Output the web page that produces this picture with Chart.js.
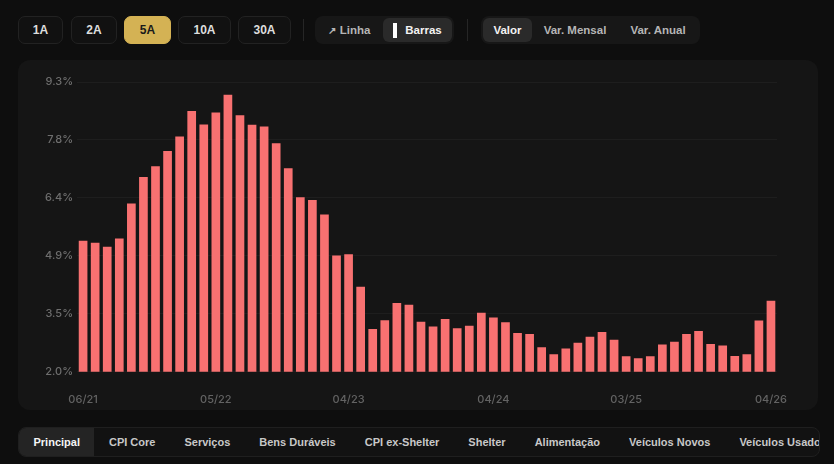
<!DOCTYPE html>
<html>
<head>
<meta charset="utf-8">
<script src="https://cdn.jsdelivr.net/npm/chart.js@4.4.1/dist/chart.umd.min.js"></script>
<style>
  html, body { margin: 0; padding: 0; background: #0e0e0e; width: 834px; height: 464px; overflow: hidden; font-family: "Liberation Sans", Arial, sans-serif; }
  .btn { position: absolute; top: 16px; height: 26px; border: 1px solid #222; border-radius: 7px; background: #111; color: #ddd; font-size: 12px; font-weight: bold; display: flex; align-items: center; justify-content: center; box-sizing: content-box; }
  .btn.on { background: #d4b254; border-color: #d4b254; color: #1a1a1a; }
  .sep { position: absolute; top: 19px; width: 1px; height: 22px; background: #262626; }
  .group { position: absolute; top: 16px; height: 28px; border-radius: 8px; background: #171717; }
  .seg { position: absolute; top: 2px; height: 24px; border-radius: 6px; color: #b5b5b5; font-size: 11.5px; font-weight: bold; display: flex; align-items: center; justify-content: center; }
  .seg.on { background: #2a2a2a; color: #f2f2f2; }
  .card { position: absolute; left: 18px; top: 60px; width: 800px; height: 350px; border-radius: 12px; background: #151515; }
  .tabs { position: absolute; left: 18px; top: 427px; width: 800px; height: 28px; border: 1px solid #1f1f1f; border-radius: 8px; background: #121212; overflow: hidden; white-space: nowrap; display: flex; }
  .tab { padding: 0 14.5px; height: 28px; line-height: 28px; font-size: 11px; font-weight: bold; color: #c8c8c8; flex: none; }
  .tab.on { background: #242424; color: #f5f5f5; }
</style>
</head>
<body>
<div class="btn" style="left:18px;width:43px;">1A</div>
<div class="btn" style="left:71px;width:44px;">2A</div>
<div class="btn on" style="left:124px;width:45px;">5A</div>
<div class="btn" style="left:178px;width:51px;">10A</div>
<div class="btn" style="left:238px;width:51px;">30A</div>
<div class="sep" style="left:303px;"></div>
<div class="group" style="left:315px;width:139px;">
  <div class="seg" style="left:2px;width:64px;"><span style="font-size:10px;margin-right:4px;">&#8599;</span>Linha</div>
  <div class="seg on" style="left:68px;width:69px;"><span style="display:inline-block;width:4px;height:15px;background:#fff;margin-right:8px;"></span>Barras</div>
</div>
<div class="sep" style="left:467px;"></div>
<div class="group" style="left:481px;width:219px;">
  <div class="seg on" style="left:2px;width:49px;">Valor</div>
  <div class="seg" style="left:54px;width:80px;">Var. Mensal</div>
  <div class="seg" style="left:138px;width:78px;">Var. Anual</div>
</div>

<div class="card">
  <div style="position:absolute;left:0;top:0;width:800px;height:361px;">
    <canvas id="cpi"></canvas>
  </div>
</div>

<div class="tabs">
  <div class="tab on">Principal</div>
  <div class="tab">CPI Core</div>
  <div class="tab">Serviços</div>
  <div class="tab">Bens Duráveis</div>
  <div class="tab">CPI ex-Shelter</div>
  <div class="tab">Shelter</div>
  <div class="tab">Alimentação</div>
  <div class="tab">Veículos Novos</div>
  <div class="tab">Veículos Usados</div>
</div>

<script>
const months = [
  '06/21', '07/21', '08/21', '09/21', '10/21', '11/21', '12/21',
  '01/22', '02/22', '03/22', '04/22', '05/22', '06/22', '07/22', '08/22', '09/22', '10/22', '11/22', '12/22',
  '01/23', '02/23', '03/23', '04/23', '05/23', '06/23', '07/23', '08/23', '09/23', '10/23', '11/23', '12/23',
  '01/24', '02/24', '03/24', '04/24', '05/24', '06/24', '07/24', '08/24', '09/24', '10/24', '11/24', '12/24',
  '01/25', '02/25', '03/25', '04/25', '05/25', '06/25', '07/25', '08/25', '09/25', '11/25', '12/25',
  '01/26', '02/26', '03/26', '04/26'
];

const cpiValues = [
  5.30, 5.25, 5.15, 5.36, 6.24, 6.91, 7.18,
  7.56, 7.93, 8.57, 8.23, 8.53, 8.98, 8.46, 8.22, 8.18, 7.76, 7.13, 6.40,
  6.33, 5.96, 4.93, 4.96, 4.14, 3.08, 3.30, 3.73, 3.69, 3.26, 3.14, 3.33,
  3.10, 3.16, 3.49, 3.37, 3.25, 2.98, 2.95, 2.62, 2.44, 2.59, 2.73, 2.88,
  3.00, 2.81, 2.39, 2.34, 2.39, 2.69, 2.76, 2.95, 3.03, 2.70, 2.66,
  2.40, 2.44, 3.29, 3.79
];

const xTickLabels = ['06/21', '05/22', '04/23', '04/24', '03/25', '04/26'];
const yTicks = [2.0, 3.46, 4.92, 6.38, 7.84, 9.3];

const ctx = document.getElementById('cpi').getContext('2d');

new Chart(ctx, {
  type: 'bar',
  data: {
    labels: months,
    datasets: [
      {
        data: cpiValues,
        backgroundColor: '#f87171',
        borderWidth: 0,
        barPercentage: 0.72,
        categoryPercentage: 1.0
      }
    ]
  },
  options: {
    responsive: true,
    maintainAspectRatio: false,
    animation: false,
    layout: {
      padding: { top: 22, right: 41, bottom: 2, left: 23 }
    },
    plugins: {
      legend: { display: false },
      tooltip: { enabled: false }
    },
    scales: {
      x: {
        grid: { display: false },
        border: { display: false },
        ticks: {
          autoSkip: false,
          maxRotation: 0,
          padding: 13,
          color: '#636363',
          font: { family: 'Inter', size: 11, weight: '500' },
          callback: function (value) {
            const lbl = this.getLabelForValue(value);
            return xTickLabels.includes(lbl) ? lbl : null;
          }
        }
      },
      y: {
        min: yTicks[0],
        max: yTicks[yTicks.length - 1],
        afterBuildTicks: function (axis) {
          axis.ticks = yTicks.map(v => ({ value: v }));
        },
        grid: { color: '#1e1e1e', drawTicks: false },
        border: { display: false },
        ticks: {
          padding: 4,
          color: '#6e6e6e',
          font: { family: 'Inter', size: 11, weight: '500' },
          callback: v => v.toFixed(1) + '%'
        }
      }
    }
  }
});
</script>
</body>
</html>
